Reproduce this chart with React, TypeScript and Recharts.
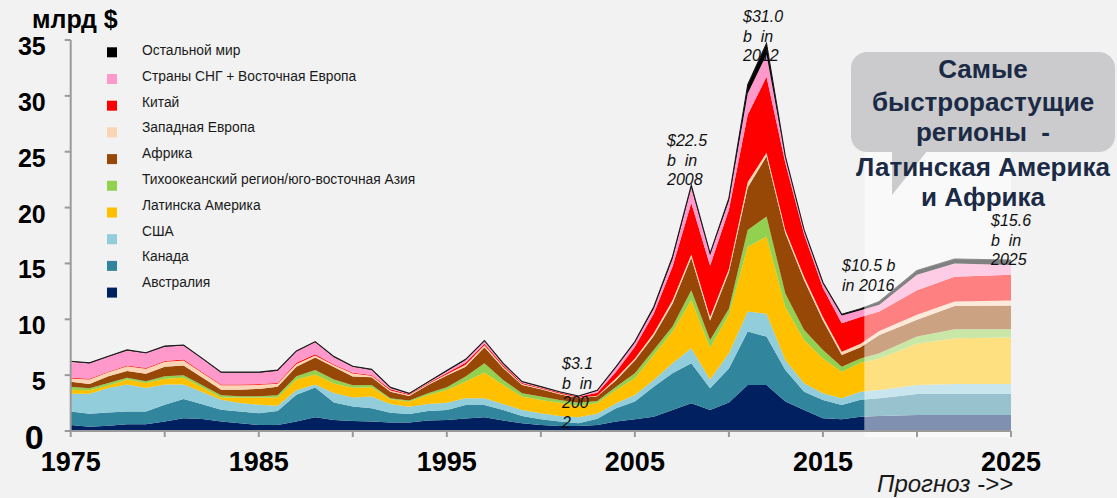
import React from 'react';
import { AreaChart, Area, XAxis, YAxis, ReferenceArea, Legend } from 'recharts';

const years = [1975,1976,1977,1978,1979,1980,1981,1982,1983,1984,1985,1986,1987,1988,1989,1990,1991,1992,1993,1994,1995,1996,1997,1998,1999,2000,2001,2002,2003,2004,2005,2006,2007,2008,2009,2010,2011,2012,2013,2014,2015,2016,2017,2018,2020,2022,2025];

const australia = [0.54,0.39,0.48,0.60,0.60,0.84,1.14,1.08,0.84,0.69,0.54,0.54,0.84,1.23,0.99,0.90,0.84,0.75,0.75,0.93,0.99,1.13,1.22,0.93,0.69,0.54,0.45,0.45,0.54,0.84,1.05,1.28,1.88,2.48,1.88,2.55,4.12,4.12,2.63,1.88,1.14,1.05,1.28,1.34,1.43,1.43,1.43];
const canada = [1.21,1.15,1.18,1.15,1.15,1.51,1.72,1.32,1.06,1.06,1.06,1.26,2.41,2.67,1.57,1.30,1.19,0.89,0.77,0.86,0.89,1.20,1.11,0.95,0.65,0.51,0.39,0.24,0.56,1.19,1.58,2.69,3.29,3.59,1.94,3.05,4.78,4.33,2.84,1.64,1.64,1.28,1.52,1.59,1.88,1.88,1.88];
const usa = [1.59,1.80,2.20,2.41,2.11,1.81,1.30,1.10,0.90,0.75,0.75,0.46,0.39,0.26,0.84,0.80,1.05,0.78,0.66,0.63,0.66,0.60,0.60,0.54,0.54,0.53,0.50,0.53,0.45,0.45,0.59,0.60,0.90,1.34,0.78,1.36,1.80,2.05,0.89,0.75,0.60,0.60,0.72,0.74,0.81,0.90,0.90];
const latinAmerica = [0.36,0.30,0.21,0.44,0.44,0.51,0.60,0.40,0.20,0.50,0.65,0.74,0.96,0.90,0.85,0.88,0.83,0.42,0.45,0.81,1.13,1.49,2.30,1.70,1.20,1.20,1.20,1.02,0.95,1.19,1.50,2.23,2.83,4.29,2.85,3.44,5.80,6.90,4.74,3.88,3.12,2.37,2.58,2.83,3.68,4.09,4.15];
const pacificAsia = [0.25,0.19,0.23,0.16,0.16,0.23,0.24,0.20,0.19,0.10,0.10,0.19,0.30,0.39,0.35,0.22,0.21,0.09,0.09,0.14,0.24,0.45,0.83,0.45,0.29,0.30,0.24,0.30,0.18,0.30,0.45,0.46,0.45,0.90,0.70,0.55,1.50,1.80,1.20,0.90,0.76,0.46,0.40,0.46,0.65,0.81,0.75];
const africa = [0.45,0.37,0.60,0.60,0.66,0.85,0.87,0.70,0.51,0.60,0.67,0.76,0.85,1.12,1.12,0.78,0.69,0.59,0.42,0.75,1.05,0.89,1.44,1.05,0.75,0.65,0.51,0.39,0.42,0.58,1.13,1.24,2.05,2.90,1.75,3.25,3.80,5.40,5.40,4.45,2.64,1.04,1.00,1.64,1.50,2.09,2.12];
const westernEurope = [0.30,0.40,0.35,0.44,0.45,0.45,0.45,0.40,0.40,0.40,0.36,0.27,0.25,0.18,0.16,0.27,0.14,0.10,0.08,0.08,0.12,0.16,0.18,0.13,0.08,0.07,0.06,0.05,0.05,0.17,0.20,0.25,0.30,0.30,0.30,0.30,0.50,0.30,0.30,0.30,0.30,0.30,0.30,0.35,0.45,0.40,0.45];
const china = [0.06,0.07,0.05,0.07,0.06,0.07,0.08,0.07,0.06,0.06,0.07,0.08,0.10,0.12,0.08,0.07,0.07,0.11,0.07,0.08,0.12,0.18,0.14,0.13,0.10,0.08,0.09,0.08,0.28,0.58,1.05,1.75,3.00,4.60,4.60,5.30,6.00,6.80,6.00,3.80,2.60,2.55,2.40,1.75,2.20,2.20,2.30];
const cisEasternEurope = [1.44,1.38,1.35,1.33,1.32,1.28,1.25,1.18,1.06,1.06,1.02,1.10,1.02,1.08,0.64,0.53,0.43,0.12,0.04,0.07,0.15,0.25,0.23,0.12,0.08,0.05,0.04,0.04,0.17,0.40,0.40,0.45,0.70,1.40,1.00,0.80,1.90,2.00,0.50,0.35,0.40,0.70,0.60,0.60,1.38,1.20,0.89];
const restOfWorld = [0.05,0.06,0.05,0.06,0.05,0.05,0.05,0.05,0.05,0.05,0.05,0.05,0.05,0.05,0.06,0.05,0.08,0.06,0.04,0.05,0.06,0.07,0.05,0.06,0.04,0.04,0.04,0.04,0.05,0.06,0.05,0.15,0.20,0.20,0.10,0.25,0.80,1.00,0.10,0.05,0.10,0.10,0.15,0.30,0.39,0.40,0.44];

const xTicks = [1975,1980,1985,1990,1995,2000,2005,2010,2015,2020,2025];
const yTicks = [0,5,10,15,20,25,30,35];

const series = [
  { key: 'australia', name: 'Австралия', color: '#002060', values: australia },
  { key: 'canada', name: 'Канада', color: '#31859C', values: canada },
  { key: 'usa', name: 'США', color: '#92CDDC', values: usa },
  { key: 'latinAmerica', name: 'Латинска Америка', color: '#FFC000', values: latinAmerica },
  { key: 'pacificAsia', name: 'Тихоокеанский регион/юго-восточная Азия', color: '#92D050', values: pacificAsia },
  { key: 'africa', name: 'Африка', color: '#974706', values: africa },
  { key: 'westernEurope', name: 'Западная Европа', color: '#FBD4B4', values: westernEurope },
  { key: 'china', name: 'Китай', color: '#FF0000', values: china },
  { key: 'cisEasternEurope', name: 'Страны СНГ + Восточная Европа', color: '#FF99CC', values: cisEasternEurope },
  { key: 'restOfWorld', name: 'Остальной мир', color: '#000000', values: restOfWorld },
];

const data = years.map((year, i) => {
  const row: Record<string, number> = { year };
  series.forEach(s => { row[s.key] = s.values[i]; });
  return row;
});

const FONT = '"Liberation Sans", Arial, sans-serif';

const YTick = (props: any) => {
  const { x, y, payload } = props;
  if (payload.value === 0) {
    return <text x={x - 19} y={y + 18} textAnchor="end" fontSize={34} fontWeight={700} fill="#000" fontFamily={FONT}>0</text>;
  }
  return <text x={x - 17} y={y + 15} textAnchor="end" fontSize={25} fontWeight={700} fill="#000" fontFamily={FONT}>{payload.value}</text>;
};

const XTick = (props: any) => {
  const { x, y, payload } = props;
  if ((payload.value - 1975) % 10 !== 0) return <g />;
  return <text x={x} y={y + 32} textAnchor="middle" fontSize={27} fontWeight={700} fill="#000" fontFamily={FONT}>{payload.value}</text>;
};

const renderLegend = () => {
  const items = [...series].reverse();
  return (
    <svg width={450} height={310} style={{ display: 'block' }}>
      {items.map((s, i) => (
        <g key={s.key}>
          <rect x={107} y={47.3 + 26.7 * i} width={10} height={10} fill={s.color} />
          <text x={142} y={55 + 25.8 * i} fontSize={13.8} fill="#1a1a1a" fontFamily={FONT}>{s.name}</text>
        </g>
      ))}
    </svg>
  );
};

const Ann = ({ x, y, lines }: { x: number; y: number; lines: string[] }) => (
  <text x={x} y={y} fontSize={16} fontStyle="italic" fill="#111" fontFamily={FONT} style={{ whiteSpace: 'pre' }}>
    {lines.map((l, i) => (
      <tspan key={i} x={x} dy={i === 0 ? 0 : 19.6}>{l}</tspan>
    ))}
  </text>
);

export default function App() {
  return (
    <div style={{ position: 'absolute', left: 0, top: 0, width: 1117, height: 498, background: '#F2F2F2', overflow: 'hidden' }}>
      <AreaChart width={1117} height={498} data={data} margin={{ top: 40, right: 106, bottom: 37, left: 10 }}>
        <XAxis
          dataKey="year"
          type="number"
          domain={[1975, 2025]}
          ticks={xTicks}
          interval={0}
          tick={<XTick />}
          tickSize={6}
          axisLine={{ stroke: '#9A9A9A', strokeWidth: 2 }}
          tickLine={{ stroke: '#9A9A9A', strokeWidth: 2 }}
          height={30}
        />
        <YAxis
          type="number"
          domain={[0, 35]}
          ticks={yTicks}
          interval={0}
          tick={<YTick />}
          tickSize={6}
          axisLine={{ stroke: '#9A9A9A', strokeWidth: 2 }}
          tickLine={{ stroke: '#9A9A9A', strokeWidth: 2 }}
          width={60.7}
        />
        {series.map(s => (
          <Area
            key={s.key}
            type="linear"
            dataKey={s.key}
            name={s.name}
            stackId="1"
            fill={s.color}
            fillOpacity={1}
            stroke={s.key === 'restOfWorld' ? '#1a1a1a' : 'none'}
            strokeWidth={s.key === 'restOfWorld' ? 1.1 : 0}
            isAnimationActive={false}
            dot={false}
            activeDot={false}
          />
        ))}
        <ReferenceArea x1={2017.2} x2={2025} y1={-0.55} y2={27} fill="#FFFFFF" fillOpacity={0.5} stroke="none" ifOverflow="visible" />
        <Legend
          content={renderLegend}
          layout="horizontal"
          verticalAlign="middle"
          align="center"
          wrapperStyle={{ position: 'absolute', left: 0, top: 0, width: 450, height: 310 }}
        />
      </AreaChart>
      <svg width={1117} height={498} style={{ position: 'absolute', left: 0, top: 0, pointerEvents: 'none' }}>
        <text x={32} y={28} fontSize={25} fontWeight={700} fill="#000" fontFamily={FONT}>млрд $</text>
        <Ann x={562} y={369} lines={['$3.1', 'b  in', '200', '2']} />
        <Ann x={667} y={146} lines={['$22.5', 'b  in', '2008']} />
        <Ann x={743} y={22} lines={['$31.0', 'b  in', '2012']} />
        <Ann x={842} y={271} lines={['$10.5 b', 'in 2016']} />
        <Ann x={991} y={226} lines={['$15.6', 'b  in', '2025']} />
        <rect x={851} y={52} width={264} height={100} rx={16} ry={16} fill="#CBCBCD" />
        <polygon points="892,150 928,150 892,195" fill="#CBCBCD" />
        <g fontFamily={FONT} fontWeight={700} fontSize={26} fill="#1B2A45" textAnchor="middle">
          <text x={983} y={78}>Самые</text>
          <text x={983} y={111}>быстрорастущие</text>
          <text x={983} y={141} style={{ whiteSpace: 'pre' }}>регионы  -</text>
          <text x={983} y={176}>Латинская Америка</text>
          <text x={983} y={206}>и Африка</text>
        </g>
        <text x={877} y={492} fontSize={24} fontStyle="italic" fill="#1a1a1a" fontFamily={FONT}>Прогноз -&gt;&gt;</text>
      </svg>
    </div>
  );
}
